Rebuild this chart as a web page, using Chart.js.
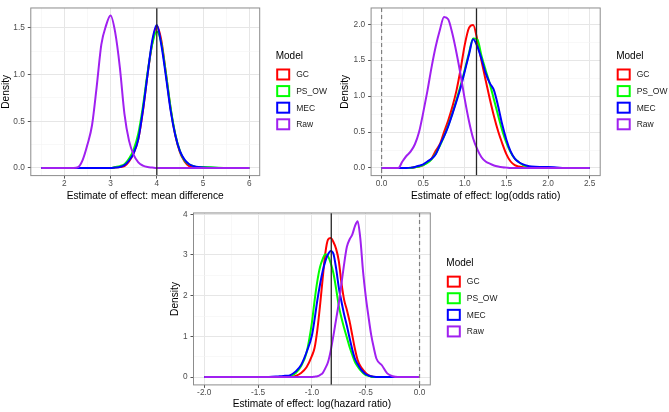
<!DOCTYPE html>
<html>
<head>
<meta charset="utf-8">
<script src="https://cdn.jsdelivr.net/npm/chart.js@4.4.1/dist/chart.umd.min.js"></script>
<style>
  html, body { margin: 0; padding: 0; background: #ffffff; }
  body { width: 669px; height: 412px; position: relative; overflow: hidden; }
  canvas { position: absolute; }
</style>
</head>
<body>
<canvas id="mdChart" width="330" height="205" style="left:0px;top:0px"></canvas>
<canvas id="orChart" width="330" height="205" style="left:339px;top:0px"></canvas>
<canvas id="hrChart" width="340" height="207" style="left:169px;top:205px"></canvas>
<script>
const modelNames = ['GC', 'PS_OW', 'MEC', 'Raw'];
const modelColors = ['#ff0000', '#00ff00', '#0000ff', '#a020f0'];

// panel 1: mean difference
const mdX = [1.5, 2.0, 2.2, 2.3, 2.4, 2.5, 2.6, 2.7, 2.8, 2.9,
             3.0, 3.1, 3.2, 3.3, 3.4, 3.5, 3.6, 3.7, 3.8, 3.9,
             4.0, 4.1, 4.2, 4.3, 4.4, 4.5, 4.6, 4.7, 4.8, 4.9,
             5.0, 5.5, 6.0];
const mdGC   = [0, 0, 0, 0, 0, 0, 0, 0, 0, 0,
                0, 0.005, 0.01, 0.02, 0.07, 0.16, 0.31, 0.61, 1.0, 1.33,
                1.52, 1.36, 1.0, 0.63, 0.35, 0.17, 0.07, 0.02, 0.01, 0,
                0, 0, 0];
const mdPSOW = [0, 0, 0, 0, 0, 0, 0, 0, 0, 0,
                0, 0.01, 0.02, 0.04, 0.1, 0.2, 0.37, 0.66, 1.02, 1.32,
                1.46, 1.33, 1.0, 0.64, 0.36, 0.18, 0.08, 0.04, 0.02, 0.01,
                0.01, 0, 0];
const mdMEC  = [0, 0, 0, 0, 0, 0, 0, 0, 0, 0,
                0, 0.005, 0.01, 0.03, 0.08, 0.16, 0.31, 0.62, 1.0, 1.36,
                1.53, 1.31, 0.97, 0.61, 0.35, 0.18, 0.09, 0.04, 0.02, 0.01,
                0.005, 0, 0];
const mdRaw  = [0, 0, 0, 0.01, 0.09, 0.25, 0.46, 0.87, 1.32, 1.52,
                1.63, 1.45, 1.08, 0.58, 0.29, 0.14, 0.06, 0.025, 0.01, 0.005,
                0, 0, 0, 0, 0, 0, 0, 0, 0, 0,
                0, 0, 0];

// panel 2: log(odds ratio)
const orX = [0, 0.1, 0.2,
             0.25, 0.3, 0.35, 0.4, 0.45, 0.5, 0.55, 0.6, 0.65, 0.7, 0.75, 0.8, 0.85, 0.9, 0.95, 1.0,
             1.05, 1.1, 1.15, 1.2, 1.25, 1.3, 1.35, 1.4, 1.45, 1.5, 1.55, 1.6, 1.65, 1.7, 1.75, 1.8,
             1.9, 2.0, 2.1, 2.2, 2.5];
const orGC   = [0, 0, 0,
                0, 0, 0, 0.01, 0.02, 0.04, 0.08, 0.13, 0.24, 0.33, 0.5, 0.66, 0.85, 1.08, 1.38, 1.72,
                1.95, 1.99, 1.78, 1.49, 1.22, 0.96, 0.72, 0.51, 0.34, 0.19, 0.09, 0.04, 0.02, 0.01, 0, 0,
                0, 0, 0, 0, 0];
const orPSOW = [0, 0, 0,
                0, 0, 0, 0.01, 0.02, 0.04, 0.07, 0.12, 0.2, 0.31, 0.44, 0.59, 0.76, 0.95, 1.15, 1.37,
                1.6, 1.8, 1.79, 1.56, 1.36, 1.17, 0.95, 0.73, 0.52, 0.35, 0.22, 0.13, 0.08, 0.04, 0.02, 0.01,
                0.005, 0, 0, 0, 0];
const orMEC  = [0, 0, 0,
                0, 0, 0.005, 0.015, 0.03, 0.05, 0.09, 0.13, 0.19, 0.32, 0.44, 0.58, 0.75, 0.93, 1.12, 1.35,
                1.58, 1.79, 1.69, 1.52, 1.32, 1.18, 1.08, 0.86, 0.6, 0.39, 0.23, 0.13, 0.08, 0.05, 0.03, 0.02,
                0.015, 0.015, 0.008, 0, 0];
const orRaw  = [0, 0, 0,
                0.09, 0.17, 0.23, 0.33, 0.5, 0.77, 1.07, 1.4, 1.69, 1.92, 2.1, 2.07, 1.87, 1.6, 1.29, 0.95,
                0.65, 0.41, 0.26, 0.15, 0.09, 0.06, 0.035, 0.02, 0.01, 0.005, 0, 0, 0, 0, 0, 0,
                0, 0, 0, 0, 0];

// panel 3: log(hazard ratio)
const hrX = [-2.0, -1.5, -1.4, -1.3, -1.25, -1.2, -1.15, -1.1, -1.05,
             -1.0, -0.975, -0.95, -0.925, -0.9, -0.875, -0.85, -0.825, -0.8, -0.775, -0.75, -0.725, -0.7,
             -0.675, -0.65, -0.625, -0.6, -0.575, -0.55, -0.525, -0.5, -0.475, -0.45, -0.425, -0.4,
             -0.35, -0.3, -0.25, -0.2, -0.1, 0.0];
const hrGC   = [0, 0, 0, 0, 0, 0, 0.03, 0.1, 0.24,
                0.52, 0.72, 1.15, 1.74, 2.42, 3.05, 3.38, 3.42, 3.32, 3.15, 2.85, 2.3, 1.89,
                1.65, 1.37, 1.03, 0.69, 0.42, 0.27, 0.18, 0.1, 0.05, 0.02, 0, 0,
                0, 0, 0, 0, 0, 0];
const hrPSOW = [0, 0, 0, 0, 0.01, 0.03, 0.1, 0.27, 0.6,
                1.34, 1.88, 2.35, 2.7, 2.9, 3.02, 2.97, 2.8, 2.55, 2.17, 1.75, 1.45, 1.2,
                0.97, 0.74, 0.55, 0.37, 0.26, 0.17, 0.1, 0.05, 0.03, 0.01, 0, 0,
                0, 0, 0, 0, 0, 0];
const hrMEC  = [0, 0, 0, 0.02, 0.03, 0.05, 0.14, 0.3, 0.61,
                1.02, 1.42, 1.88, 2.27, 2.6, 2.85, 3.02, 3.1, 3.03, 2.67, 2.2, 1.85, 1.53,
                1.26, 0.96, 0.68, 0.45, 0.32, 0.21, 0.13, 0.07, 0.04, 0.02, 0.01, 0,
                0, 0, 0, 0, 0, 0];
const hrRaw  = [0, 0, 0, 0, 0, 0, 0, 0, 0,
                0, 0.01, 0.02, 0.05, 0.1, 0.22, 0.37, 0.65, 1.02, 1.42, 1.82, 2.3, 2.79,
                3.2, 3.38, 3.5, 3.71, 3.83, 3.4, 2.6, 1.99, 1.5, 1.05, 0.72, 0.45,
                0.29, 0.09, 0.02, 0, 0, 0];

// reference lines (true effect, null effect)
const trueMd = 4, trueLogOR = 1.14, trueLogHR = -0.82, nullLog = 0;

Chart.defaults.font.family = '"Liberation Sans", Arial, sans-serif';

const isMajor = (v, step) => Math.abs(v / step - Math.round(v / step)) < 1e-6;

const panelDecor = {
  id: 'panelDecor',
  afterDatasetsDraw(chart, args, opts) {
    const {ctx, chartArea: a, scales: {x}} = chart;
    ctx.save();
    opts.lines.forEach(l => {
      const px = x.getPixelForValue(l.value);
      ctx.strokeStyle = l.color;
      ctx.lineWidth = l.width;
      ctx.setLineDash(l.dash || []);
      ctx.beginPath();
      ctx.moveTo(px, a.top);
      ctx.lineTo(px, a.bottom);
      ctx.stroke();
    });
    ctx.setLineDash([]);
    ctx.strokeStyle = '#8c8c8c';
    ctx.lineWidth = 1;
    ctx.strokeRect(a.left, a.top, a.right - a.left, a.bottom - a.top);
    ctx.restore();
  },
  afterDraw(chart) {
    // ggplot-style legend to the right of the panel
    const {ctx, chartArea: a} = chart;
    const cy = (a.top + a.bottom) / 2;
    const lx = a.right + 16.5;
    ctx.save();
    ctx.textAlign = 'left';
    ctx.textBaseline = 'middle';
    ctx.fillStyle = '#000000';
    ctx.font = '10px "Liberation Sans", Arial, sans-serif';
    ctx.fillText('Model', lx - 0.5, cy - 35.5);
    ctx.font = '8.5px "Liberation Sans", Arial, sans-serif';
    chart.data.datasets.forEach((ds, i) => {
      const top = cy - 23.3 + i * 16.6;
      ctx.fillStyle = '#ffffff';
      ctx.fillRect(lx, top, 14, 12);
      ctx.strokeStyle = ds.borderColor;
      ctx.lineWidth = 2;
      ctx.strokeRect(lx + 1, top + 1, 12, 10);
      ctx.fillStyle = '#1a1a1a';
      ctx.fillText(ds.label, lx + 20, top + 6.5);
    });
    ctx.restore();
  }
};

function axis(o) {
  return {
    type: 'linear',
    min: o.min,
    max: o.max,
    afterFit: o.fit,
    border: {display: false},
    grid: {
      color: c => isMajor(c.tick.value, o.major) ? '#e6e6e6' : '#f3f3f3',
      lineWidth: c => isMajor(c.tick.value, o.major) ? 1 : 0.6,
      tickColor: c => isMajor(c.tick.value, o.major) ? '#555555' : 'rgba(0,0,0,0)',
      tickLength: 3,
      tickWidth: 1
    },
    ticks: {
      stepSize: o.step,
      includeBounds: false,
      autoSkip: false,
      maxRotation: 0,
      padding: o.tickPad,
      color: '#4d4d4d',
      font: {size: 8.3},
      callback: v => isMajor(v, o.major) ? v.toFixed(o.digits) : ''
    },
    title: {
      display: true,
      text: o.title,
      color: '#000000',
      font: {size: 10.2},
      padding: o.titlePad
    }
  };
}

function densityChart(id, grid, series, p) {
  return new Chart(document.getElementById(id), {
    type: 'line',
    data: {
      labels: grid,
      datasets: series.map((vals, i) => ({
        label: modelNames[i],
        data: vals,
        borderColor: modelColors[i],
        backgroundColor: '#ffffff',
        borderWidth: 2,
        pointRadius: 0,
        cubicInterpolationMode: 'monotone',
        order: series.length - 1 - i
      }))
    },
    options: {
      responsive: false,
      animation: false,
      events: [],
      layout: {padding: {left: 0, right: p.padRight, top: p.padTop, bottom: 0}},
      plugins: {
        legend: {display: false},
        tooltip: {enabled: false},
        panelDecor: {lines: p.lines}
      },
      scales: {
        x: axis({min: p.xMin, max: p.xMax, step: p.xStep, major: p.xMajor, digits: p.xDigits,
                 title: p.xTitle, tickPad: 0, titlePad: {top: 0, bottom: p.xTitlePad},
                 fit: s => { s.height = p.xAxisH; }}),
        y: axis({min: p.yMin, max: p.yMax, step: p.yStep, major: p.yMajor, digits: p.yDigits,
                 title: 'Density', tickPad: 3, titlePad: {top: 0, bottom: 0},
                 fit: s => { s.width = p.yAxisW; }})
      }
    },
    plugins: [panelDecor]
  });
}

densityChart('mdChart', mdX, [mdGC, mdPSOW, mdMEC, mdRaw], {
  xMin: 1.275, xMax: 6.225, xStep: 0.5, xMajor: 1, xDigits: 0,
  yMin: -0.0815, yMax: 1.7115, yStep: 0.25, yMajor: 0.5, yDigits: 1,
  xTitle: 'Estimate of effect: mean difference',
  padRight: 70.3, padTop: 1.6, yAxisW: 30.8, xAxisH: 29.4, xTitlePad: 3,
  lines: [{value: trueMd, color: '#262626', width: 1.3}]
});

densityChart('orChart', orX, [orGC, orPSOW, orMEC, orRaw], {
  xMin: -0.126, xMax: 2.626, xStep: 0.25, xMajor: 0.5, xDigits: 1,
  yMin: -0.106, yMax: 2.226, yStep: 0.25, yMajor: 0.5, yDigits: 1,
  xTitle: 'Estimate of effect: log(odds ratio)',
  padRight: 68.8, padTop: 1.4, yAxisW: 32.1, xAxisH: 29.4, xTitlePad: 3,
  lines: [{value: nullLog, color: '#808080', width: 1.2, dash: [4, 3]},
          {value: trueLogOR, color: '#262626', width: 1.3}]
});

densityChart('hrChart', hrX, [hrGC, hrPSOW, hrMEC, hrRaw], {
  xMin: -2.1, xMax: 0.1, xStep: 0.25, xMajor: 0.5, xDigits: 1,
  yMin: -0.192, yMax: 4.032, yStep: 0.5, yMajor: 1, yDigits: 0,
  xTitle: 'Estimate of effect: log(hazard ratio)',
  padRight: 78.7, padTop: 5.5, yAxisW: 24.5, xAxisH: 27.1, xTitlePad: 2,
  lines: [{value: nullLog, color: '#808080', width: 1.2, dash: [4, 3]},
          {value: trueLogHR, color: '#262626', width: 1.3}]
});
</script>
</body>
</html>
